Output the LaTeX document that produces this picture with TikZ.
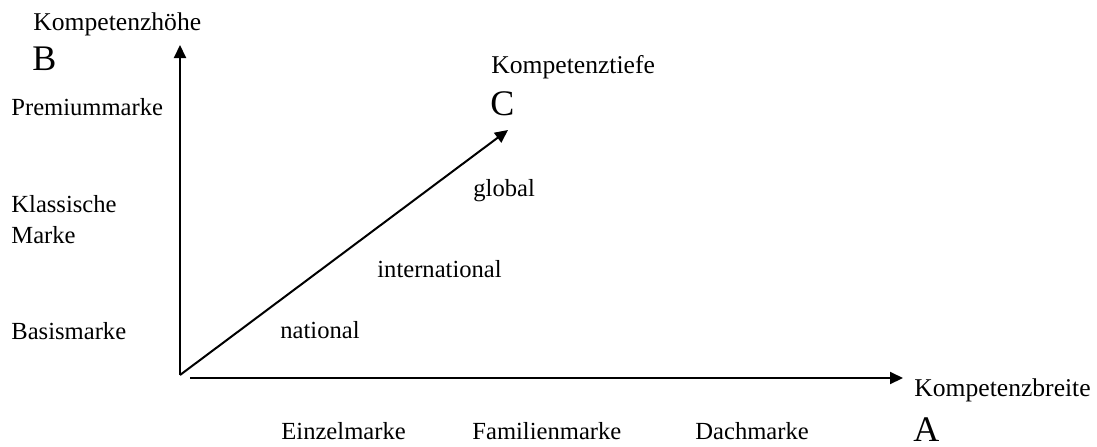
\documentclass[tikz,border=0pt]{standalone}
\usepackage{fontspec}
\setmainfont{Liberation Serif}
\usetikzlibrary{arrows.meta}
\begin{document}
\begin{tikzpicture}[x=0.5pt,y=-0.5pt,
  lbl/.style={anchor=base west,inner sep=0pt,font=\fontsize{12.3}{14}\selectfont},
  title/.style={anchor=base west,inner sep=0pt,font=\fontsize{12.8}{14}\selectfont},
  big/.style={anchor=base west,inner sep=0pt,font=\fontsize{18}{20}\selectfont},
  axis/.style={line width=1pt,-{Triangle[length=6.5pt,width=6pt]}}]
\useasboundingbox (0,0) rectangle (1097,446);
\coordinate (O) at (180,375);
\coordinate (Btip) at (180,45);
\coordinate (H0) at (190,378);
\coordinate (Atip) at (903,378);
\coordinate (Ctip) at (508,130);
\draw[axis] (O) -- (Btip);
\draw[axis] (H0) -- (Atip);
\draw[axis] (O) -- (Ctip);
\node[title] (kh) at (33,30) {Kompetenzhöhe};
\node[big] (B) at (32,70) {B};
\node[lbl] (pm) at (11,115) {Premiummarke};
\node[lbl] (km1) at (11,212) {Klassische};
\node[lbl] (km2) at (11,243) {Marke};
\node[lbl] (bm) at (11,339) {Basismarke};
\node[lbl] (nat) at (280,338) {national};
\node[lbl] (int) at (377,277) {international};
\node[lbl] (glo) at (473,196) {global};
\node[title] (kt) at (491,73) {Kompetenztiefe};
\node[big] (C) at (490,115) {C};
\node[title] (kb) at (914,396) {Kompetenzbreite};
\node[big] (A) at (913,441) {A};
\node[lbl] (em) at (281,439) {Einzelmarke};
\node[lbl] (fm) at (472,439) {Familienmarke};
\node[lbl] (dm) at (695,439) {Dachmarke};
\end{tikzpicture}
\end{document}
